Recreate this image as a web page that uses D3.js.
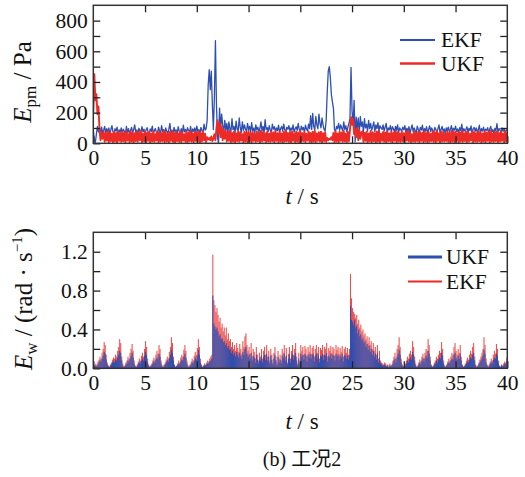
<!DOCTYPE html>
<html>
<head>
<meta charset="utf-8">
<script src="https://cdn.jsdelivr.net/npm/d3@7/dist/d3.min.js"></script>
<style>
  body { margin: 0; background: #fff; }
  text { font-family: "Liberation Serif", "Times New Roman", serif; fill: #111; }
</style>
</head>
<body>
<svg id="chart" width="525" height="477"></svg>
<script>
// Sampling step of both records, seconds
const dt = 0.1;

// Pressure estimation error E_pm (Pa), t = 0 … 40 s
const pmEKF = [
  90,20,5,60,110,75,95,60,105,70,
  85,110,65,95,70,100,55,90,115,75,
  60,95,80,105,50,88,72,100,65,92,
  78,58,110,70,95,62,85,104,68,90,
  120,72,88,55,98,80,66,108,74,92,
  60,86,102,70,58,94,78,112,64,84,
  96,70,55,106,82,68,115,74,90,62,
  100,78,64,92,130,70,86,58,104,76,
  88,62,108,80,70,96,60,118,74,90,
  66,102,84,72,110,58,94,78,100,68,
  112,76,90,60,104,82,70,125,86,96,
  150,380,480,350,470,260,90,300,670,250,
  40,0,230,90,190,120,70,150,85,130,
  60,140,95,75,160,88,110,70,145,92,
  80,165,100,70,140,85,120,95,75,130,
  90,110,70,135,82,100,65,120,88,105,
  72,98,140,80,110,66,155,90,102,78,
  115,85,70,125,92,108,75,100,82,118,
  70,96,110,80,125,88,74,105,92,115,
  78,100,86,120,72,95,108,84,130,90,
  76,112,88,104,70,118,92,80,125,96,
  180,90,195,110,85,175,120,95,190,130,
  100,165,120,90,80,150,330,470,500,430,
  320,270,230,90,75,110,95,130,85,120,
  100,80,140,90,115,75,105,130,160,495,
  210,120,280,10,170,90,165,60,175,110,
  140,70,160,100,125,80,150,95,130,85,
  110,140,75,120,95,135,80,115,100,90,
  120,80,105,130,70,100,88,115,75,108,
  95,72,110,85,120,68,100,90,78,105,
  88,115,70,98,82,108,64,94,120,76,
  100,84,66,112,90,72,104,86,118,70,
  96,80,108,62,92,114,76,100,84,70,
  104,88,72,96,120,68,90,110,78,94,
  62,100,82,106,74,92,115,70,98,86,
  112,76,94,66,102,84,125,72,96,80,
  90,108,70,98,82,114,66,92,104,78,
  100,72,88,118,64,96,80,106,74,92,
  84,102,68,94,110,76,90,60,98,82,
  128,74,96,86,64,100,78,92,70,88,
  84
];

const pmUKF = [
  200,450,280,320,190,240,90,20,70,30,
  75,10,65,18,80,6,72,14,62,8,
  74,12,68,5,78,16,64,10,76,14,
  68,6,80,18,60,8,78,12,72,5,
  66,14,76,10,70,20,84,6,62,12,
  78,8,68,16,74,5,64,12,80,10,
  60,18,78,6,72,12,66,14,84,8,
  70,12,62,5,76,16,80,10,68,6,
  74,14,64,10,78,8,72,18,60,10,
  76,6,68,14,82,12,62,8,76,16,
  70,10,80,5,66,12,74,20,62,8,
  40,25,35,20,45,15,30,60,20,100,
  150,60,135,40,110,20,90,30,80,12,
  72,16,84,8,68,12,76,6,64,14,
  78,10,72,18,60,6,76,12,70,8,
  80,12,66,5,74,16,62,10,78,14,
  68,6,82,12,72,18,64,8,78,12,
  62,10,76,14,70,5,80,16,66,8,
  76,12,64,6,74,12,84,14,68,10,
  72,5,78,16,62,8,76,12,70,6,
  82,12,66,14,74,8,62,18,78,10,
  68,6,76,12,80,8,64,16,72,12,
  76,5,66,14,72,10,35,20,30,25,
  40,20,68,8,78,12,64,6,76,16,
  70,10,80,12,62,8,74,14,90,170,
  120,160,60,90,40,100,20,85,30,70,
  78,10,68,16,76,6,64,12,80,8,
  72,14,66,5,78,12,82,8,62,16,
  74,10,70,6,78,14,64,12,76,5,
  68,16,80,8,72,12,62,10,78,14,
  66,6,74,18,82,12,70,8,60,12,
  78,10,64,14,76,5,72,16,68,8,
  80,12,66,6,74,12,62,14,78,10,
  70,8,84,16,64,6,76,12,72,12,
  62,14,78,10,68,5,80,12,74,8,
  76,16,64,6,72,12,82,10,66,14,
  78,8,70,12,62,18,78,6,74,12,
  66,10,80,14,72,5,64,12,78,8,
  70,16,76,6,84,12,62,10,74,14,
  78,8,68,12,76,16,64,6,80,12,
  70
];

// Speed estimation error E_w (rad/s), one bar per 0.1 s interval
const wEKF = [
  0.04,0.03,0.05,0.03,0.07,0.09,0.12,0.10,0.16,0.20,
  0.27,0.24,0.14,0.06,0.03,0.02,0.04,0.06,0.09,0.11,
  0.10,0.14,0.12,0.18,0.22,0.30,0.26,0.12,0.05,0.02,
  0.03,0.06,0.08,0.12,0.10,0.16,0.20,0.25,0.18,0.08,
  0.03,0.02,0.04,0.07,0.10,0.08,0.13,0.16,0.12,0.20,
  0.28,0.22,0.10,0.04,0.02,0.03,0.05,0.08,0.11,0.09,
  0.14,0.18,0.15,0.24,0.20,0.08,0.03,0.02,0.04,0.06,
  0.09,0.12,0.10,0.17,0.22,0.32,0.26,0.12,0.04,0.02,
  0.03,0.05,0.08,0.06,0.11,0.14,0.12,0.19,0.24,0.18,
  0.08,0.03,0.02,0.04,0.07,0.10,0.08,0.13,0.17,0.14,
  0.21,0.30,0.22,0.10,0.04,0.02,0.03,0.05,0.04,0.06,
  0.08,0.07,0.10,0.12,0.14,1.17,0.70,0.65,0.58,0.62,
  0.55,0.48,0.52,0.42,0.46,0.38,0.42,0.34,0.42,0.30,
  0.36,0.28,0.30,0.22,0.27,0.20,0.24,0.18,0.26,0.21,
  0.17,0.25,0.20,0.15,0.28,0.22,0.33,0.36,0.24,0.18,
  0.22,0.15,0.26,0.12,0.20,0.17,0.10,0.22,0.14,0.08,
  0.16,0.12,0.20,0.10,0.18,0.22,0.14,0.24,0.12,0.18,
  0.08,0.20,0.14,0.06,0.16,0.22,0.12,0.05,0.18,0.10,
  0.14,0.08,0.20,0.16,0.24,0.12,0.21,0.06,0.15,0.22,
  0.10,0.18,0.24,0.14,0.20,0.26,0.12,0.05,0.16,0.08,
  0.24,0.18,0.22,0.14,0.23,0.20,0.12,0.22,0.17,0.24,
  0.15,0.21,0.23,0.12,0.20,0.24,0.16,0.22,0.10,0.21,
  0.19,0.24,0.14,0.22,0.20,0.26,0.12,0.21,0.18,0.23,
  0.16,0.22,0.20,0.13,0.24,0.19,0.22,0.15,0.21,0.17,
  0.23,0.12,0.20,0.22,0.16,0.21,0.14,0.20,0.97,0.72,
  0.62,0.58,0.56,0.52,0.55,0.46,0.50,0.42,0.45,0.38,
  0.40,0.34,0.36,0.30,0.33,0.26,0.32,0.24,0.28,0.20,
  0.26,0.18,0.22,0.14,0.24,0.10,0.18,0.08,0.06,0.05,
  0.04,0.06,0.05,0.03,0.04,0.02,0.05,0.03,0.04,0.08,
  0.12,0.16,0.10,0.20,0.24,0.32,0.22,0.10,0.04,0.02,
  0.03,0.05,0.08,0.12,0.10,0.15,0.18,0.14,0.28,0.22,
  0.12,0.05,0.02,0.03,0.06,0.09,0.07,0.12,0.15,0.11,
  0.16,0.20,0.18,0.30,0.24,0.12,0.04,0.02,0.03,0.06,
  0.08,0.12,0.10,0.14,0.18,0.16,0.27,0.20,0.08,0.03,
  0.02,0.04,0.07,0.10,0.08,0.12,0.16,0.14,0.22,0.26,
  0.18,0.14,0.20,0.16,0.24,0.12,0.04,0.02,0.03,0.05,
  0.08,0.11,0.09,0.14,0.18,0.15,0.22,0.26,0.12,0.04,
  0.02,0.03,0.06,0.09,0.12,0.16,0.20,0.32,0.24,0.10,
  0.04,0.02,0.04,0.07,0.10,0.08,0.14,0.18,0.15,0.25,
  0.20,0.08,0.03,0.02,0.04,0.03,0.05,0.07,0.06,0.11
];

const wUKF = [
  0.03,0.02,0.03,0.02,0.04,0.06,0.08,0.07,0.10,0.13,
  0.17,0.15,0.09,0.04,0.02,0.01,0.03,0.04,0.06,0.07,
  0.06,0.09,0.08,0.11,0.14,0.18,0.16,0.08,0.03,0.01,
  0.02,0.04,0.05,0.08,0.07,0.10,0.13,0.16,0.11,0.05,
  0.02,0.01,0.03,0.05,0.06,0.05,0.08,0.10,0.08,0.13,
  0.17,0.14,0.06,0.03,0.01,0.02,0.03,0.05,0.07,0.06,
  0.09,0.11,0.10,0.15,0.12,0.05,0.02,0.01,0.03,0.04,
  0.06,0.08,0.07,0.11,0.14,0.19,0.16,0.08,0.03,0.01,
  0.02,0.03,0.05,0.04,0.07,0.09,0.08,0.12,0.15,0.11,
  0.05,0.02,0.01,0.03,0.04,0.06,0.05,0.08,0.11,0.09,
  0.13,0.19,0.14,0.06,0.03,0.01,0.02,0.03,0.03,0.04,
  0.05,0.05,0.07,0.08,0.10,0.75,0.46,0.43,0.40,0.42,
  0.38,0.33,0.35,0.30,0.31,0.27,0.28,0.24,0.26,0.21,
  0.23,0.19,0.20,0.16,0.18,0.14,0.16,0.12,0.17,0.14,
  0.11,0.16,0.13,0.10,0.17,0.14,0.20,0.22,0.15,0.12,
  0.14,0.10,0.16,0.08,0.13,0.11,0.06,0.14,0.09,0.05,
  0.10,0.08,0.13,0.06,0.12,0.14,0.09,0.15,0.08,0.12,
  0.05,0.13,0.09,0.04,0.10,0.14,0.08,0.03,0.12,0.06,
  0.09,0.05,0.13,0.10,0.15,0.08,0.13,0.04,0.10,0.14,
  0.06,0.12,0.15,0.09,0.13,0.16,0.08,0.03,0.10,0.05,
  0.15,0.12,0.14,0.09,0.15,0.13,0.07,0.14,0.11,0.15,
  0.10,0.14,0.15,0.07,0.13,0.15,0.10,0.14,0.06,0.13,
  0.12,0.15,0.09,0.14,0.13,0.16,0.07,0.13,0.11,0.15,
  0.10,0.14,0.13,0.08,0.15,0.12,0.14,0.09,0.13,0.11,
  0.15,0.07,0.13,0.14,0.10,0.13,0.09,0.13,0.64,0.50,
  0.48,0.45,0.50,0.42,0.44,0.36,0.40,0.33,0.35,0.29,
  0.31,0.26,0.28,0.22,0.25,0.19,0.23,0.17,0.20,0.14,
  0.18,0.12,0.15,0.09,0.16,0.06,0.11,0.05,0.04,0.03,
  0.03,0.04,0.03,0.02,0.03,0.01,0.03,0.02,0.03,0.05,
  0.08,0.10,0.06,0.12,0.15,0.19,0.14,0.06,0.03,0.01,
  0.02,0.03,0.05,0.08,0.06,0.09,0.11,0.09,0.17,0.14,
  0.08,0.03,0.01,0.02,0.04,0.06,0.04,0.08,0.10,0.07,
  0.10,0.13,0.11,0.18,0.15,0.08,0.03,0.01,0.02,0.04,
  0.05,0.08,0.06,0.09,0.11,0.10,0.16,0.13,0.05,0.02,
  0.01,0.03,0.05,0.06,0.05,0.08,0.10,0.09,0.14,0.16,
  0.11,0.09,0.13,0.10,0.15,0.08,0.03,0.01,0.02,0.03,
  0.05,0.07,0.06,0.09,0.11,0.10,0.14,0.16,0.08,0.03,
  0.01,0.02,0.04,0.06,0.08,0.10,0.13,0.19,0.15,0.06,
  0.03,0.01,0.03,0.05,0.06,0.05,0.09,0.11,0.10,0.15,
  0.13,0.05,0.02,0.01,0.03,0.02,0.03,0.05,0.04,0.07
];

// Axis ticks and labels
const tTicks = [0, 5, 10, 15, 20, 25, 30, 35, 40];
const pmTicks = [0, 100, 200, 300, 400, 500, 600, 700, 800];
const pmLabels = [0, 200, 400, 600, 800];
const wTicks = [0, 0.2, 0.4, 0.6, 0.8, 1.0, 1.2];
const wLabels = [0, 0.4, 0.8, 1.2];

const BLUE = "#2d4fb2";
const RED = "#ee2a26";
const RED_BAR = "#f04a48";
const SERIF = "'Liberation Serif', 'Times New Roman', serif";

const svg = d3.select("#chart");
const left = 93.3, right = 507.3;
const x = d3.scaleLinear().domain([0, 40]).range([left, right]);

function panel(top, bottom, yDomain, ticks, labels, fmt, id) {
  const y = d3.scaleLinear().domain(yDomain).range([bottom, top]);
  const g = svg.append("g");
  g.append("clipPath").attr("id", id).append("rect")
    .attr("x", left).attr("y", top).attr("width", right - left).attr("height", bottom - top);
  const plot = g.append("g").attr("clip-path", `url(#${id})`);
  return { y, g, plot, top, bottom, ticks, labels, fmt };
}

function frame(p) {
  const { y, g, top, bottom, ticks, labels, fmt } = p;
  const lab = v => labels.some(l => Math.abs(l - v) < 1e-9) ? fmt(v) : "";
  const styleAxis = sel => {
    sel.attr("font-family", null).attr("font-size", null);
    sel.select(".domain").remove();
    sel.selectAll(".tick line").attr("stroke", "#222").attr("stroke-width", 1.3);
    sel.selectAll(".tick text").style("font-family", SERIF).style("font-size", "21.5px").attr("fill", "#111");
  };
  g.append("g").attr("transform", `translate(0,${bottom})`)
    .call(d3.axisBottom(x).tickValues(tTicks).tickFormat(d3.format("d")).tickSizeInner(-7).tickSizeOuter(0).tickPadding(6.5))
    .call(styleAxis);
  g.append("g").attr("transform", `translate(0,${top})`)
    .call(d3.axisTop(x).tickValues(tTicks.slice(1, -1)).tickFormat("").tickSizeInner(-7).tickSizeOuter(0))
    .call(styleAxis);
  g.append("g").attr("transform", `translate(${left},0)`)
    .call(d3.axisLeft(y).tickValues(ticks).tickFormat(lab).tickSizeInner(-7).tickSizeOuter(0).tickPadding(5.5))
    .call(styleAxis);
  g.append("g").attr("transform", `translate(${right},0)`)
    .call(d3.axisRight(y).tickValues(ticks.slice(1)).tickFormat("").tickSizeInner(-7).tickSizeOuter(0))
    .call(styleAxis);
  g.append("rect").attr("x", left).attr("y", top).attr("width", right - left).attr("height", bottom - top)
    .attr("fill", "none").attr("stroke", "#333").attr("stroke-width", 1.5);
}

// ---- Upper panel: pressure error lines ----
const p1 = panel(5.3, 143.3, [0, 900], pmTicks, pmLabels, d3.format("d"), "clipTop");
const line = d3.line().x((d, i) => x(i * dt)).y(d => p1.y(d));
p1.plot.append("path").datum(pmEKF).attr("d", line)
  .attr("fill", "none").attr("stroke", BLUE).attr("stroke-width", 1.3).attr("stroke-linejoin", "round");
p1.plot.append("path").datum(pmUKF).attr("d", line)
  .attr("fill", "none").attr("stroke", RED).attr("stroke-width", 1.9).attr("stroke-linejoin", "round");
frame(p1);

// ---- Lower panel: speed error bars ----
const p2 = panel(232.3, 368.3, [0, 1.4], wTicks, wLabels, d3.format(".1f"), "clipBot");
const bw = x(dt) - x(0);
p2.plot.append("g").selectAll("rect").data(wEKF).join("rect")
  .attr("x", (d, i) => x(i * dt)).attr("width", bw)
  .attr("y", d => p2.y(d)).attr("height", d => p2.y(0) - p2.y(d))
  .attr("fill", RED_BAR);
p2.plot.append("g").selectAll("rect").data(wUKF).join("rect")
  .attr("x", (d, i) => x(i * dt)).attr("width", bw)
  .attr("y", d => p2.y(d)).attr("height", d => p2.y(0) - p2.y(d))
  .attr("fill", BLUE);
frame(p2);

// ---- Legends ----
function legend(items, x0, x1, tx) {
  items.forEach(it => {
    svg.append("line").attr("x1", x0).attr("x2", x1).attr("y1", it.y).attr("y2", it.y)
      .attr("stroke", it.color).attr("stroke-width", it.w);
    svg.append("text").attr("x", tx).attr("y", it.y + 7.3).style("font-size", "21.5px").text(it.name);
  });
}
legend([{ name: "EKF", color: BLUE, y: 40, w: 2 }, { name: "UKF", color: RED, y: 63.5, w: 2.5 }], 400, 435, 441);
legend([{ name: "UKF", color: BLUE, y: 257, w: 3 }, { name: "EKF", color: RED, y: 281.5, w: 2 }], 408, 442, 446);

// ---- Axis titles ----
function tTitle(yb) {
  const t = svg.append("text").attr("x", 302).attr("y", yb).attr("text-anchor", "middle").style("font-size", "23px");
  t.append("tspan").attr("font-style", "italic").text("t");
  t.append("tspan").text(" / s");
}
tTitle(204);
tTitle(429);

const y1 = svg.append("text").attr("transform", "translate(31,82) rotate(-90)")
  .attr("text-anchor", "middle").style("font-size", "25px");
y1.append("tspan").attr("font-style", "italic").text("E");
y1.append("tspan").style("font-size", "17px").attr("dy", 5).text("pm");
y1.append("tspan").attr("dy", -5).text(" / Pa");

const y2 = svg.append("text").attr("transform", "translate(32,299) rotate(-90)")
  .attr("text-anchor", "middle").style("font-size", "25px");
y2.append("tspan").attr("font-style", "italic").text("E");
y2.append("tspan").style("font-size", "17px").attr("dy", 5).text("w");
y2.append("tspan").attr("dy", -5).text(" / (rad · s");
y2.append("tspan").style("font-size", "15px").attr("dy", -10).text("−1");
y2.append("tspan").attr("dy", 10).text(")");

// ---- Caption ----
svg.append("text").attr("x", 302).attr("y", 466).attr("text-anchor", "middle")
  .style("font-size", "20px").style("font-family", "'Liberation Serif', 'Noto Sans CJK SC', serif")
  .text("(b)  工况2");
</script>
</body>
</html>
